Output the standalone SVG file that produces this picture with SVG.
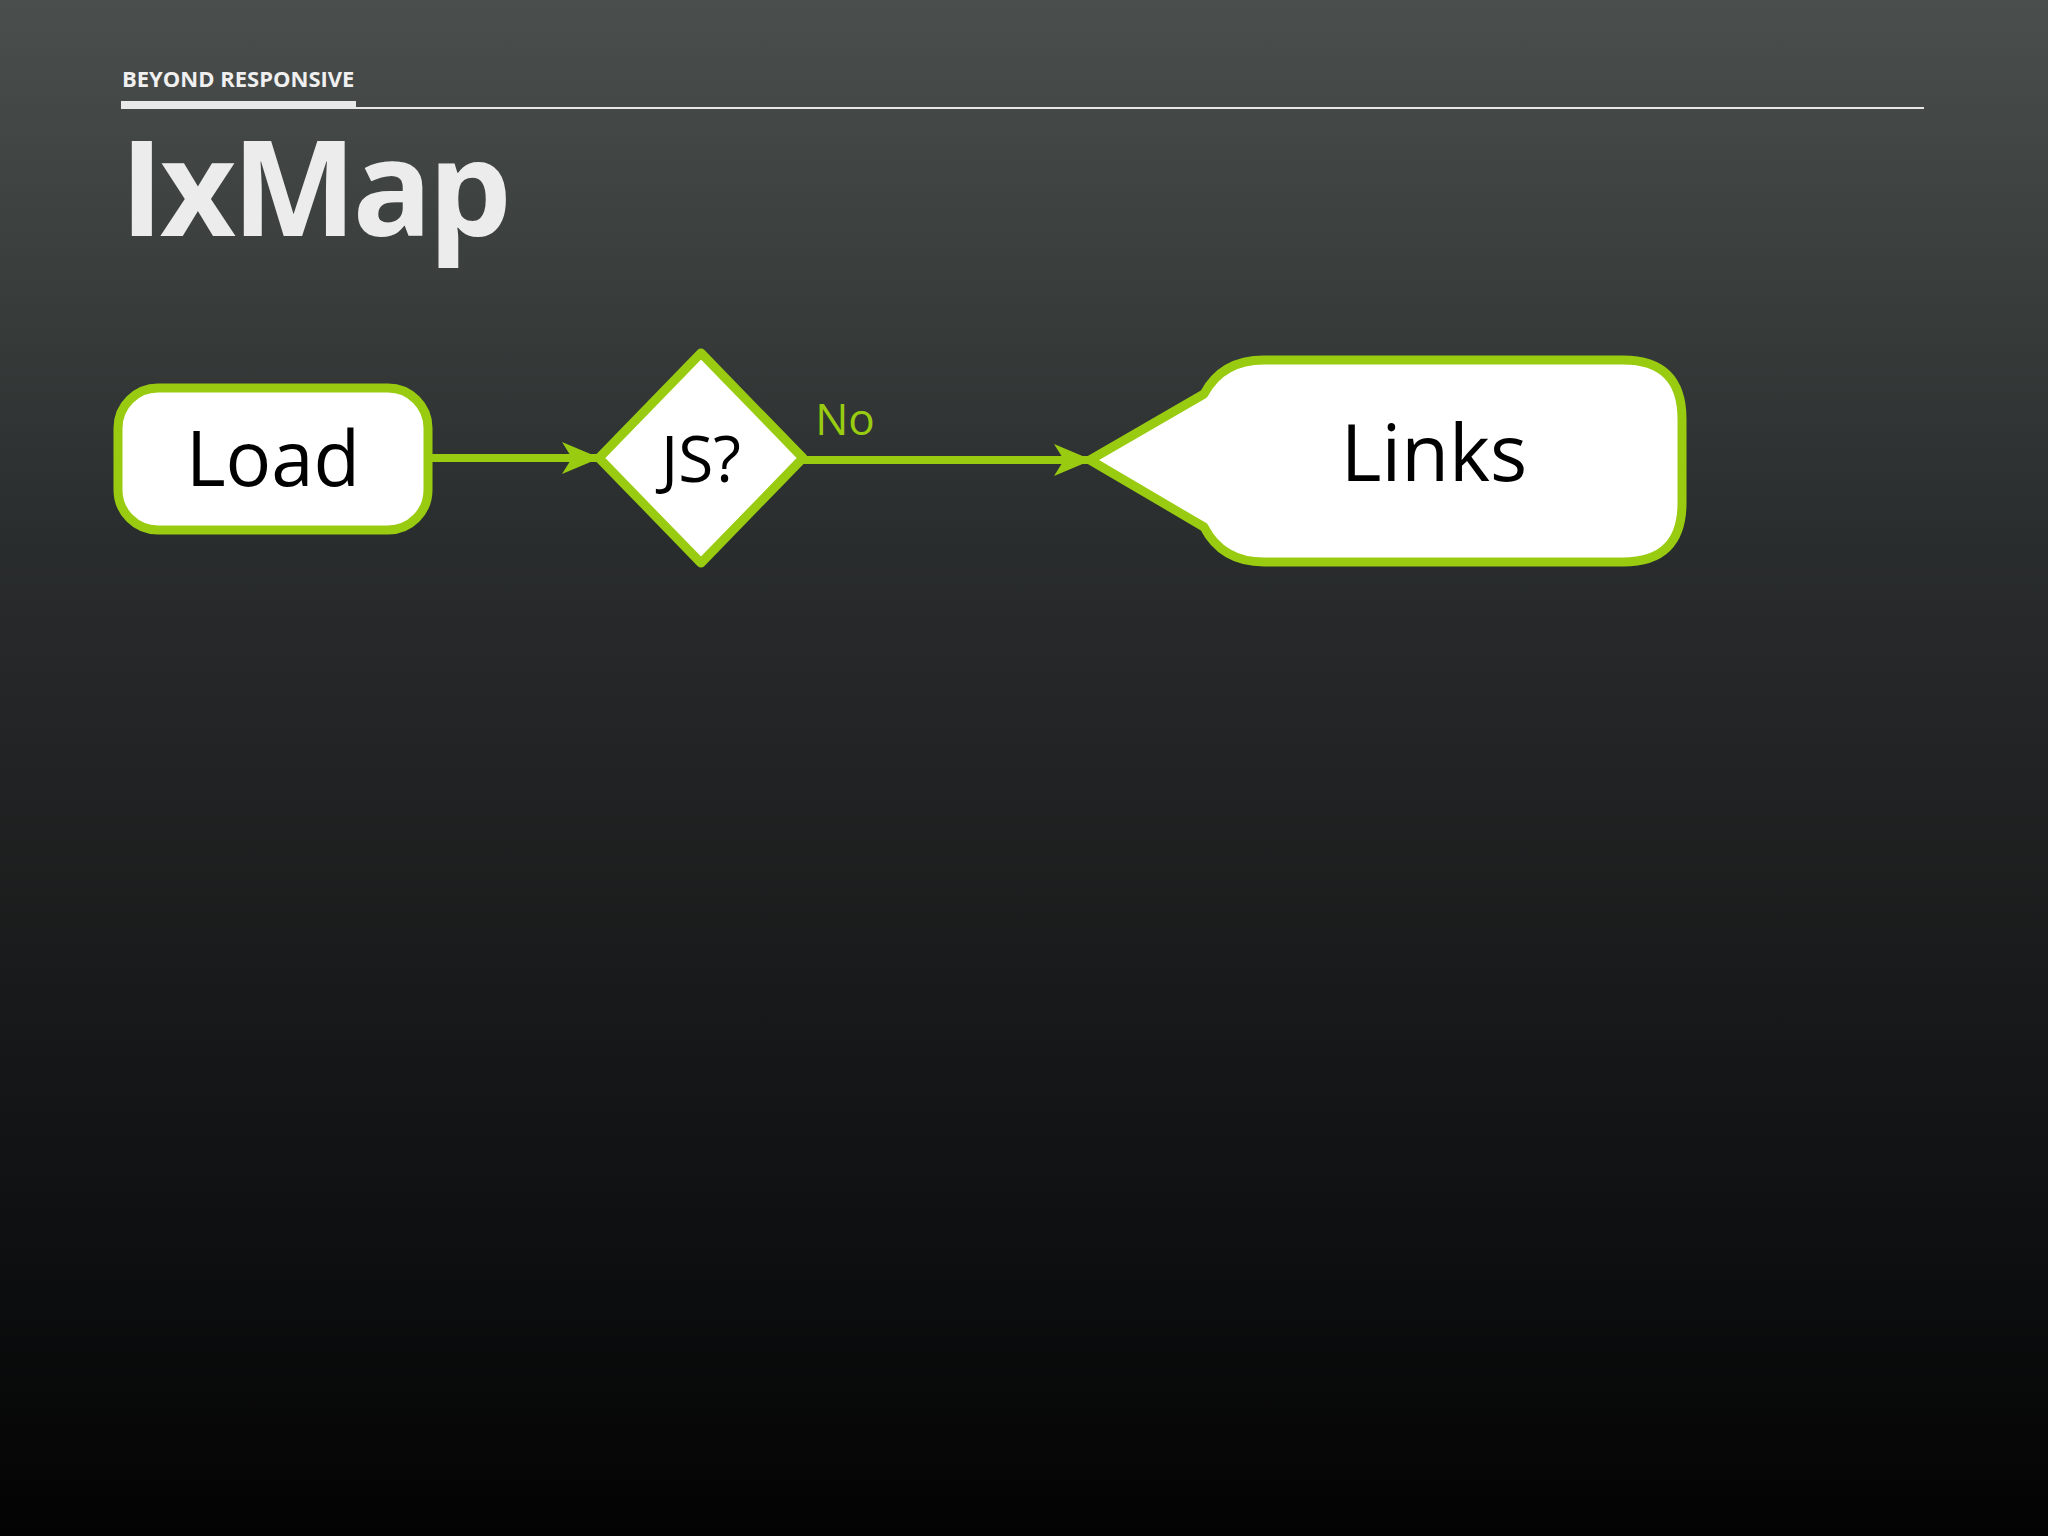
<svg xmlns="http://www.w3.org/2000/svg" width="2048" height="1536" viewBox="0 0 2048 1536">
<defs>
<linearGradient id="bg" x1="0" y1="0" x2="0" y2="1">
<stop offset="0" stop-color="#4a4f4d"/><stop offset="0.35" stop-color="#2a2d2d"/><stop offset="1" stop-color="#030304"/>
</linearGradient>
<marker id="ah" markerWidth="40" markerHeight="40" refX="36" refY="20" markerUnits="userSpaceOnUse" orient="auto">
<path d="M0,4 L38,20 L0,36 L10,20 Z" fill="#99cc11"/>
</marker>
<style>
.node{fill:#fff;stroke:#99cc11;stroke-width:9;stroke-linejoin:round}
.lbl{font-family:"Open Sans","Noto Sans",sans-serif;fill:#000;text-anchor:middle}
.conn{stroke:#99cc11;stroke-width:8;fill:none}
</style>
</defs>
<rect width="2048" height="1536" fill="url(#bg)"/>
<text x="122" y="87" font-family="Open Sans, sans-serif" font-weight="bold" font-size="22" fill="#f0f0f0">BEYOND RESPONSIVE</text>
<line x1="121" y1="108" x2="1924" y2="108" stroke="#e8e8e8" stroke-width="2"/>
<rect x="121" y="101" width="235" height="6" fill="#e8e8e8"/>
<text x="120" y="236" font-family="Open Sans, sans-serif" font-weight="bold" font-size="132" fill="#ececec" letter-spacing="-4">IxMap</text>
<g id="connectors">
<line class="conn" x1="430" y1="458" x2="598" y2="458" marker-end="url(#ah)"/>
<line class="conn" x1="803" y1="460" x2="1090" y2="460" marker-end="url(#ah)"/>
<text x="845" y="435" font-family="Open Sans, sans-serif" font-size="44" fill="#99cc11" text-anchor="middle">No</text>
</g>
<g id="load">
<rect class="node" x="118" y="388" width="310" height="142" rx="40"/>
<text class="lbl" x="273" y="486" font-size="76">Load</text>
</g>
<g id="js">
<path class="node" d="M701,353 L803,458 L701,563 L599,458 Z"/>
<text class="lbl" x="701" y="482" font-size="64">JS?</text>
</g>
<g id="links">
<path class="node" d="M1090,460 L1204,394 Q1222,360 1264,360 L1623,360 Q1682,360 1682,419 L1682,503 Q1682,562 1623,562 L1264,562 Q1222,562 1204,527 Z"/>
<text class="lbl" x="1434" y="481" font-size="78">Links</text>
</g>
</svg>
